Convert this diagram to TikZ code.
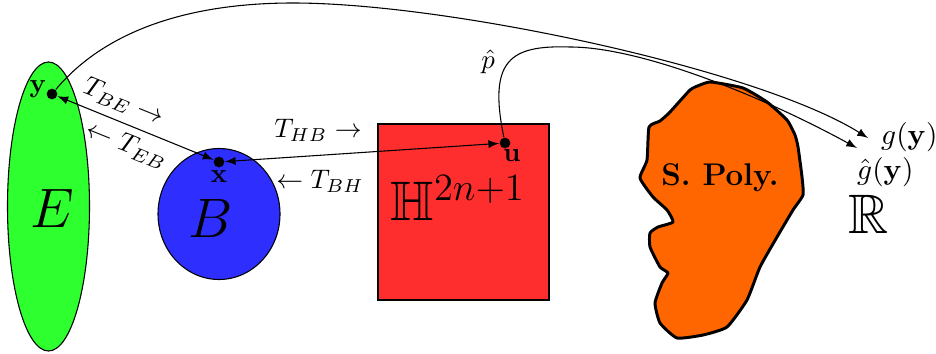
\documentclass[tikz,border=0pt]{standalone}
\usepackage{amssymb}
\definecolor{Ecol}{HTML}{2EFF2E}
\definecolor{Bcol}{HTML}{2E2EFF}
\definecolor{Hcol}{HTML}{FF2E2E}
\definecolor{Pcol}{HTML}{FF6600}
\tikzset{pt/.style={circle,fill=black,inner sep=0pt,minimum size=4pt},
  bigtext/.style={font=\huge},
  region/.style={draw=black,line width=.4pt}}
\newcommand{\ptlabel}[3]{%
  \node (#1) at (#2) {$\mathbf{#3}$};
}
\begin{document}
\begin{tikzpicture}[x=0.0131cm,y=-0.0131cm,>=latex]
\path[use as bounding box] (0,0) rectangle (936,353);
\filldraw[region,fill=Ecol] (48.5,206.5) ellipse (41 and 144.5);
\filldraw[region,fill=Bcol] (219,214) ellipse (61 and 65.5);
\filldraw[region,fill=Hcol] (378,124) rectangle (549,300);
\filldraw[fill=Pcol,draw=black,line width=1.1pt,line join=round]
  plot[smooth cycle,tension=.3] coordinates {
  (711,82) (743,88) (767,102) (787,120) (795,135) (798,147) (802,177) (803,195)
  (793,210) (777,237) (760,267) (747,300) (727,327) (703,335) (677,338) (660,323)
  (655,303) (662,283) (668,273) (660,267) (650,247) (650,233) (658,227) (673,222)
  (667,210) (653,197) (640,178) (647,160) (649,127) (660,121) (670,112) (690,90)
  (700,85)};
\node[bigtext] (Elab) at (52,208) {$E$};
\node[bigtext] (Blab) at (211,218) {$B$};
\node[bigtext] (Hlab) at (458,198) {$\mathbb{H}^{2n+1}$};
\node[bigtext] (Rlab) at (869,214) {$\mathbb{R}$};
\node[font=\bfseries\fontsize{11.7}{14}\selectfont] (Plab) at (720,178) {S. Poly.};
\node[pt] (y) at (52,94) {};
\node[pt] (x) at (219,162) {};
\node[pt] (u) at (505,143) {};
\ptlabel{ylab}{38,89}{y}
\ptlabel{xlab}{219,177}{x}
\ptlabel{ulab}{512,156}{u}
\draw[<->] (y) -- (x);
\draw[<->] (x) -- (u);
\node[rotate=-22] (TBE) at (124,102) {$T_{BE}\rightarrow$};
\node[rotate=-22] (TEB) at (127,145) {$\leftarrow T_{EB}$};
\node (THB) at (318,130) {$T_{HB}\rightarrow$};
\node (TBH) at (320,181) {$\leftarrow T_{BH}$};
\node (phat) at (488,62) {$\hat{p}$};
\node[anchor=west,inner sep=1pt,font=\fontsize{11}{13}\selectfont] (gy) at (878,137) {$g(\mathbf{y})$};
\node[anchor=west,inner sep=1pt,font=\fontsize{11}{13}\selectfont] (ghy) at (854,172) {$\hat{g}(\mathbf{y})$};
\coordinate (gtip) at (868,138);
\coordinate (ghtip) at (857,148);
\draw[->] (y) .. controls (110,25) and (200,3) .. (293,3) .. controls (450,3) and (760,70) .. (gtip);
\draw[->] (u) .. controls (488,60) and (510,45) .. (570,47) .. controls (640,47) and (760,95) .. (ghtip);
\end{tikzpicture}
\end{document}
